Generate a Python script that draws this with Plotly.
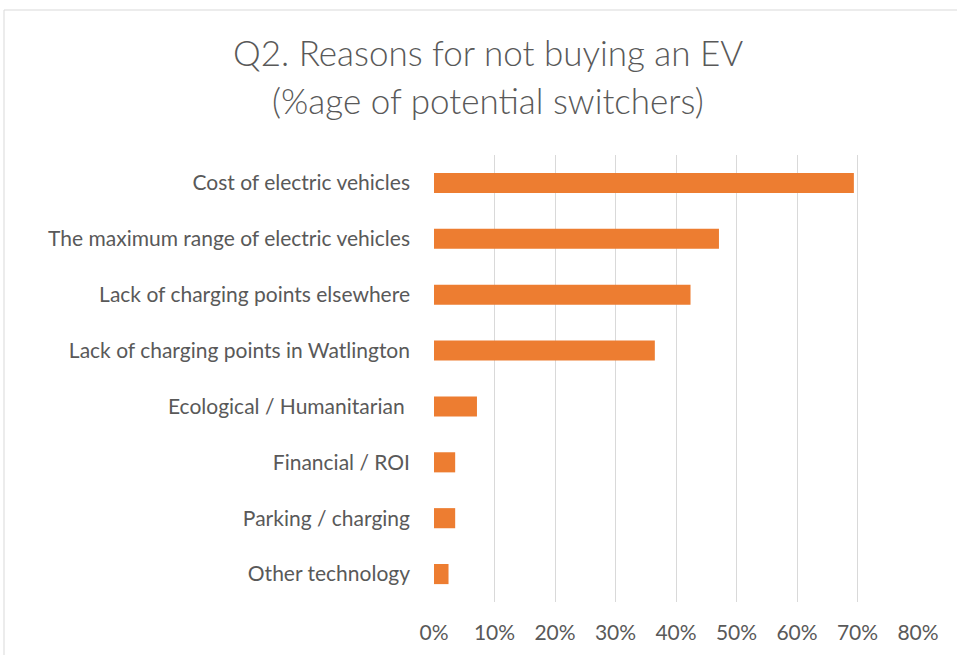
import plotly.graph_objects as go

categories = [
    "Cost of electric vehicles",
    "The maximum range of electric vehicles",
    "Lack of charging points elsewhere",
    "Lack of charging points in Watlington",
    "Ecological / Humanitarian\u00a0",
    "Financial / ROI",
    "Parking / charging",
    "Other technology",
]
values = [0.694, 0.471, 0.424, 0.365, 0.071, 0.035, 0.035, 0.024]
tick_vals = [0, 0.1, 0.2, 0.3, 0.4, 0.5, 0.6, 0.7, 0.8]
title_lines = ["Q2. Reasons for not buying an EV", "(%age of potential switchers)"]

FONT = "Lato"
GRAY = "#595959"

W, H = 957, 655
L, R, T, B = 434, 39, 155, 53
PW, PH = W - L - R, H - T - B


def px_x(x):
    return (x - L) / PW


def px_y(y):
    return 1 - (y - T) / PH


fig = go.Figure(
    go.Bar(
        x=values,
        y=categories,
        orientation="h",
        marker=dict(color="#ED7D31", line=dict(width=0)),
        width=0.36,
    )
)

annotations = []
for i, line in enumerate(title_lines):
    annotations.append(
        dict(
            text=line,
            xref="paper",
            yref="paper",
            x=px_x(488),
            y=px_y(52 + 48 * i),
            xanchor="center",
            yanchor="middle",
            showarrow=False,
            font=dict(family=FONT, size=35, color=GRAY, weight=300),
        )
    )

fig.update_layout(
    width=W,
    height=H,
    paper_bgcolor="white",
    plot_bgcolor="white",
    margin=dict(l=L, r=R, t=T, b=B, autoexpand=False),
    showlegend=False,
    annotations=annotations,
    xaxis=dict(
        range=[0, 0.8],
        tickvals=tick_vals,
        tickformat=".0%",
        showgrid=True,
        gridcolor="#d9d9d9",
        gridwidth=1.3,
        zeroline=False,
        showline=False,
        ticks="",
        tickfont=dict(family=FONT, size=21, color=GRAY),
        ticklabelstandoff=16,
    ),
    yaxis=dict(
        autorange="reversed",
        showgrid=False,
        zeroline=False,
        showline=False,
        ticks="",
        tickfont=dict(family=FONT, size=21, color=GRAY),
        ticklabelstandoff=23,
    ),
    shapes=[
        dict(
            type="rect",
            xref="paper",
            yref="paper",
            x0=px_x(4),
            x1=1.2,
            y0=-0.3,
            y1=px_y(10),
            line=dict(color="#d9d9d9", width=1),
            fillcolor="rgba(0,0,0,0)",
            layer="below",
        )
    ],
)

fig.write_html(
    "out.html",
    config={"displayModeBar": False},
    post_script="document.body.style.margin='0';document.body.style.overflow='hidden';",
)
